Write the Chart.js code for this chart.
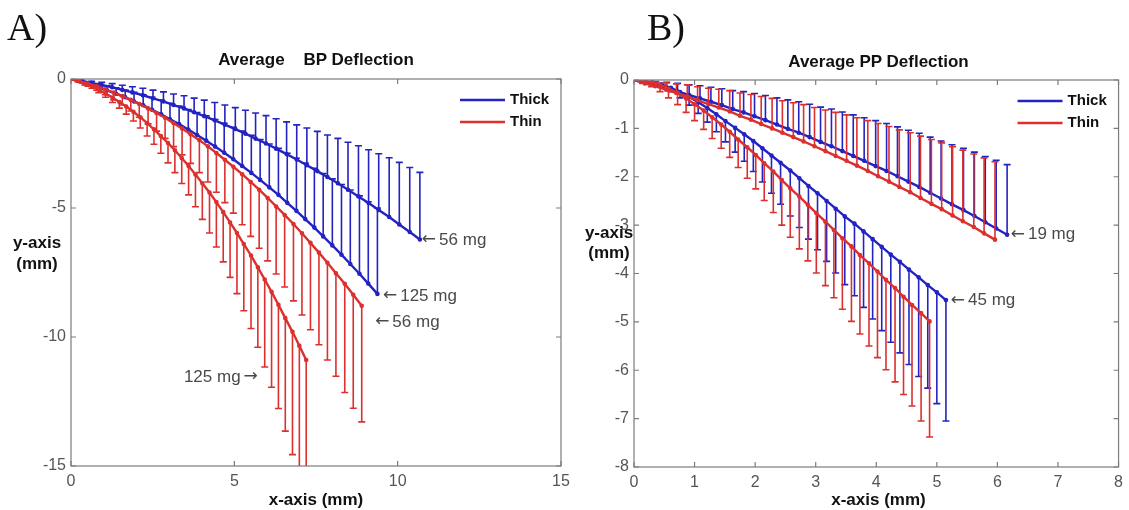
<!DOCTYPE html>
<html>
<head>
<meta charset="utf-8">
<script src="https://cdn.jsdelivr.net/npm/chart.js@4.4.0/dist/chart.umd.min.js"></script>
<style>
  body { margin: 0; background: #fff; }
  #wrap { position: relative; width: 1129px; height: 510px; overflow: hidden; font-family: 'Liberation Sans', Arial, sans-serif; }
  canvas { position: absolute; top: 0; }
  .lbl { position: absolute; color: #111; font-weight: bold; font-size: 17px; line-height: 20px; white-space: pre; text-align: center; }
  .panel { position: absolute; font-family: 'Liberation Serif', 'Times New Roman', serif; font-size: 38px; line-height: 38px; color: #111; }
</style>
</head>
<body>
<div id="wrap">
  <canvas id="chartA" width="580" height="510" style="left:0"></canvas>
  <canvas id="chartB" width="549" height="510" style="left:580px"></canvas>
  <div class="panel" style="left:7px;top:8px">A)</div>
  <div class="panel" style="left:647px;top:8px">B)</div>
  <div class="lbl" style="left:71px;width:490px;top:50px">Average    BP Deflection</div>
  <div class="lbl" style="left:634px;width:489px;top:52px">Average PP Deflection</div>
  <div class="lbl" style="left:71px;width:490px;top:490px">x-axis (mm)</div>
  <div class="lbl" style="left:634px;width:489px;top:490px">x-axis (mm)</div>
  <div class="lbl" style="left:0;width:74px;top:232px;line-height:21px">y-axis
(mm)</div>
  <div class="lbl" style="left:578px;width:62px;top:223px">y-axis
(mm)</div>
</div>
<script>
const BLUE = '#2323c2';
const RED = '#dc302e';

// ---- A) BP deflection ----
// thick, 56 mg (bars up)
const bpThick56X = [0, 0.31, 0.63, 0.94, 1.26, 1.57, 1.88, 2.20, 2.51, 2.83, 3.14, 3.46, 3.77, 4.08, 4.40, 4.71, 5.03, 5.34, 5.65, 5.97, 6.28, 6.60, 6.91, 7.22, 7.54, 7.85, 8.17, 8.48, 8.80, 9.11, 9.42, 9.74, 10.05, 10.37, 10.68];
const bpThick56Y = [0, -0.07, -0.15, -0.23, -0.32, -0.42, -0.52, -0.63, -0.75, -0.87, -1.01, -1.14, -1.29, -1.44, -1.60, -1.77, -1.94, -2.12, -2.31, -2.50, -2.70, -2.91, -3.12, -3.34, -3.57, -3.80, -4.04, -4.29, -4.55, -4.81, -5.08, -5.35, -5.64, -5.93, -6.22];
const bpThick56Err = [0, 0.03, 0.06, 0.10, 0.14, 0.18, 0.22, 0.27, 0.32, 0.37, 0.43, 0.49, 0.55, 0.62, 0.69, 0.76, 0.83, 0.91, 0.99, 1.08, 1.16, 1.25, 1.34, 1.44, 1.54, 1.63, 1.74, 1.84, 1.96, 2.07, 2.18, 2.30, 2.41, 2.50, 2.60];
// thick, 125 mg (bars up)
const bpThick125X = [0, 0.28, 0.55, 0.83, 1.10, 1.38, 1.66, 1.93, 2.21, 2.48, 2.76, 3.03, 3.31, 3.59, 3.86, 4.14, 4.41, 4.69, 4.97, 5.24, 5.52, 5.79, 6.07, 6.35, 6.62, 6.90, 7.17, 7.45, 7.72, 8.00, 8.28, 8.55, 8.83, 9.10, 9.38];
const bpThick125Y = [0, -0.10, -0.20, -0.32, -0.44, -0.57, -0.71, -0.87, -1.02, -1.19, -1.37, -1.56, -1.75, -1.96, -2.17, -2.39, -2.62, -2.86, -3.11, -3.37, -3.64, -3.91, -4.20, -4.49, -4.80, -5.11, -5.43, -5.76, -6.10, -6.45, -6.81, -7.17, -7.55, -7.93, -8.33];
const bpThick125Err = [0, 0.04, 0.08, 0.13, 0.18, 0.23, 0.28, 0.35, 0.41, 0.48, 0.55, 0.62, 0.70, 0.78, 0.87, 0.96, 1.05, 1.14, 1.24, 1.35, 1.46, 1.56, 1.68, 1.80, 1.92, 2.04, 2.17, 2.30, 2.44, 2.58, 2.72, 2.87, 3.02, 3.17, 3.33];
// thin, 56 mg (bars down)
const bpThin56X = [0, 0.26, 0.52, 0.79, 1.05, 1.31, 1.57, 1.83, 2.09, 2.36, 2.62, 2.88, 3.14, 3.40, 3.66, 3.93, 4.19, 4.45, 4.71, 4.97, 5.24, 5.50, 5.76, 6.02, 6.28, 6.54, 6.81, 7.07, 7.33, 7.59, 7.85, 8.11, 8.38, 8.64, 8.90];
const bpThin56Y = [0, -0.08, -0.18, -0.28, -0.40, -0.53, -0.66, -0.81, -0.97, -1.14, -1.32, -1.50, -1.71, -1.92, -2.14, -2.37, -2.61, -2.87, -3.13, -3.40, -3.69, -3.99, -4.29, -4.61, -4.94, -5.27, -5.62, -5.98, -6.35, -6.73, -7.12, -7.53, -7.94, -8.36, -8.79];
const bpThin56Err = [0, 0.04, 0.10, 0.15, 0.21, 0.28, 0.35, 0.43, 0.51, 0.60, 0.70, 0.80, 0.91, 1.02, 1.13, 1.26, 1.38, 1.52, 1.66, 1.80, 1.96, 2.11, 2.27, 2.44, 2.62, 2.79, 2.98, 3.17, 3.37, 3.57, 3.77, 3.99, 4.21, 4.40, 4.50];
// thin, 125 mg (bars down)
const bpThin125X = [0, 0.21, 0.42, 0.64, 0.85, 1.06, 1.27, 1.48, 1.69, 1.91, 2.12, 2.33, 2.54, 2.75, 2.97, 3.18, 3.39, 3.60, 3.81, 4.02, 4.24, 4.45, 4.66, 4.87, 5.08, 5.29, 5.51, 5.72, 5.93, 6.14, 6.35, 6.56, 6.78, 6.99, 7.20];
const bpThin125Y = [0, -0.08, -0.18, -0.29, -0.42, -0.56, -0.72, -0.89, -1.07, -1.27, -1.48, -1.71, -1.95, -2.21, -2.48, -2.76, -3.06, -3.37, -3.70, -4.04, -4.40, -4.77, -5.16, -5.56, -5.97, -6.40, -6.84, -7.30, -7.77, -8.25, -8.75, -9.27, -9.80, -10.34, -10.89];
const bpThin125Err = [0, 0.02, 0.05, 0.07, 0.11, 0.15, 0.19, 0.24, 0.29, 0.36, 0.42, 0.50, 0.58, 0.67, 0.77, 0.87, 0.99, 1.12, 1.25, 1.40, 1.57, 1.74, 1.93, 2.13, 2.35, 2.58, 2.83, 3.10, 3.39, 3.70, 4.02, 4.38, 4.76, 5.17, 5.57];

// ---- B) PP deflection ----
const ppThick19X = [0, 0.18, 0.36, 0.54, 0.72, 0.91, 1.09, 1.27, 1.45, 1.63, 1.81, 1.99, 2.17, 2.36, 2.54, 2.72, 2.90, 3.08, 3.26, 3.44, 3.62, 3.80, 3.99, 4.17, 4.35, 4.53, 4.71, 4.89, 5.07, 5.25, 5.44, 5.62, 5.80, 5.98, 6.16];
const ppThick19Y = [0, -0.06, -0.12, -0.18, -0.24, -0.31, -0.38, -0.45, -0.52, -0.60, -0.67, -0.75, -0.83, -0.92, -1.01, -1.09, -1.18, -1.28, -1.37, -1.47, -1.57, -1.67, -1.78, -1.88, -1.99, -2.10, -2.21, -2.33, -2.45, -2.57, -2.69, -2.81, -2.94, -3.07, -3.20];
const ppThick19Err = [0, 0.04, 0.09, 0.13, 0.17, 0.21, 0.26, 0.30, 0.34, 0.38, 0.43, 0.47, 0.51, 0.55, 0.60, 0.64, 0.68, 0.72, 0.77, 0.81, 0.85, 0.89, 0.94, 0.98, 1.02, 1.06, 1.11, 1.15, 1.19, 1.23, 1.28, 1.32, 1.36, 1.41, 1.45];
const ppThin19X = [0, 0.18, 0.35, 0.53, 0.70, 0.88, 1.05, 1.23, 1.40, 1.58, 1.75, 1.93, 2.10, 2.28, 2.45, 2.63, 2.80, 2.98, 3.16, 3.33, 3.51, 3.68, 3.86, 4.03, 4.21, 4.38, 4.56, 4.73, 4.91, 5.08, 5.26, 5.43, 5.61, 5.78, 5.96];
const ppThin19Y = [0, -0.07, -0.13, -0.20, -0.27, -0.34, -0.42, -0.50, -0.57, -0.65, -0.74, -0.82, -0.91, -1.00, -1.09, -1.18, -1.27, -1.37, -1.47, -1.57, -1.67, -1.77, -1.88, -1.99, -2.10, -2.21, -2.32, -2.44, -2.56, -2.67, -2.80, -2.92, -3.04, -3.17, -3.30];
const ppThin19Err = [0, 0.05, 0.09, 0.14, 0.19, 0.24, 0.28, 0.33, 0.38, 0.43, 0.47, 0.52, 0.57, 0.62, 0.66, 0.71, 0.76, 0.80, 0.85, 0.90, 0.95, 0.99, 1.04, 1.09, 1.14, 1.18, 1.23, 1.28, 1.33, 1.37, 1.42, 1.47, 1.51, 1.56, 1.61];
const ppThick45X = [0, 0.15, 0.30, 0.45, 0.61, 0.76, 0.91, 1.06, 1.21, 1.36, 1.51, 1.67, 1.82, 1.97, 2.12, 2.27, 2.42, 2.58, 2.73, 2.88, 3.03, 3.18, 3.33, 3.48, 3.64, 3.79, 3.94, 4.09, 4.24, 4.39, 4.54, 4.70, 4.85, 5.00, 5.15];
const ppThick45Y = [0, -0.02, -0.05, -0.09, -0.16, -0.25, -0.35, -0.46, -0.58, -0.71, -0.85, -0.99, -1.12, -1.26, -1.41, -1.56, -1.71, -1.87, -2.03, -2.19, -2.34, -2.50, -2.66, -2.82, -2.97, -3.13, -3.29, -3.45, -3.61, -3.76, -3.92, -4.08, -4.24, -4.39, -4.55];
const ppThick45Err = [0, 0.01, 0.03, 0.05, 0.08, 0.12, 0.17, 0.23, 0.29, 0.36, 0.43, 0.50, 0.56, 0.63, 0.70, 0.78, 0.86, 0.94, 1.02, 1.10, 1.17, 1.25, 1.33, 1.41, 1.49, 1.57, 1.65, 1.73, 1.81, 1.88, 1.96, 2.05, 2.13, 2.30, 2.50];
const ppThin45X = [0, 0.14, 0.29, 0.43, 0.57, 0.72, 0.86, 1.00, 1.15, 1.29, 1.44, 1.58, 1.72, 1.87, 2.01, 2.15, 2.30, 2.44, 2.58, 2.73, 2.87, 3.01, 3.16, 3.30, 3.44, 3.59, 3.73, 3.88, 4.02, 4.16, 4.31, 4.45, 4.59, 4.74, 4.88];
const ppThin45Y = [0, -0.02, -0.05, -0.10, -0.18, -0.27, -0.38, -0.50, -0.63, -0.77, -0.92, -1.07, -1.23, -1.39, -1.55, -1.72, -1.89, -2.07, -2.24, -2.41, -2.58, -2.75, -2.93, -3.10, -3.27, -3.44, -3.62, -3.79, -3.96, -4.13, -4.30, -4.48, -4.65, -4.82, -4.99];
const ppThin45Err = [0, 0.05, 0.09, 0.14, 0.19, 0.24, 0.29, 0.34, 0.39, 0.44, 0.49, 0.53, 0.58, 0.64, 0.70, 0.77, 0.85, 0.93, 1.01, 1.08, 1.16, 1.24, 1.32, 1.40, 1.47, 1.55, 1.63, 1.71, 1.78, 1.86, 1.94, 2.02, 2.09, 2.23, 2.39];

const legendItems = [{ text: 'Thick', color: BLUE }, { text: 'Thin', color: RED }];
const notesA = [
  { text: '56 mg', x: 10.74, y: -6.24, arrow: 'left' },
  { text: '125 mg', x: 9.55, y: -8.41, arrow: 'left' },
  { text: '56 mg', x: 9.31, y: -9.42, arrow: 'left' },
  { text: '125 mg', x: 5.72, y: -11.55, arrow: 'right' }
];
const notesB = [
  { text: '19 mg', x: 6.22, y: -3.2, arrow: 'left' },
  { text: '45 mg', x: 5.23, y: -4.56, arrow: 'left' }
];

function pts(xs, ys) {
  return xs.map((x, i) => ({ x: x, y: ys[i] }));
}

function curve(xs, ys, errs, dir, color) {
  return {
    data: pts(xs, ys),
    errs: errs,
    errDir: dir,          // +1 bars go up, -1 bars go down
    showLine: true,
    borderColor: color,
    backgroundColor: color,
    borderWidth: 2.4,
    pointRadius: 1.1,
    pointHoverRadius: 0,
    tension: 0
  };
}

// one-sided error bars, drawn just before each curve
const errorBars = {
  id: 'errorBars',
  beforeDatasetDraw(chart, args) {
    const ds = chart.data.datasets[args.index];
    if (!ds.errs) return;
    const ctx = chart.ctx, a = chart.chartArea;
    const xs = chart.scales.x, ys = chart.scales.y;
    ctx.save();
    ctx.beginPath();
    ctx.rect(a.left, a.top, a.right - a.left, a.bottom - a.top);
    ctx.clip();
    ctx.strokeStyle = ds.borderColor;
    ctx.lineWidth = 1.6;
    ds.data.forEach((p, i) => {
      const e = ds.errs[i];
      if (!e) return;
      const px = xs.getPixelForValue(p.x);
      const y0 = ys.getPixelForValue(p.y);
      const y1 = ys.getPixelForValue(p.y + ds.errDir * e);
      ctx.beginPath();
      ctx.moveTo(px, y0);
      ctx.lineTo(px, y1);
      ctx.moveTo(px - 3.5, y1);
      ctx.lineTo(px + 3.5, y1);
      ctx.stroke();
    });
    ctx.restore();
  }
};

// box, inward ticks, legend and the mg notes
const frame = {
  id: 'frame',
  afterDraw(chart, args, opts) {
    const ctx = chart.ctx, a = chart.chartArea;
    const xs = chart.scales.x, ys = chart.scales.y;
    ctx.save();
    ctx.strokeStyle = '#7c7c7c';
    ctx.lineWidth = 1.2;
    ctx.strokeRect(a.left, a.top, a.right - a.left, a.bottom - a.top);
    ctx.beginPath();
    xs.ticks.forEach(t => {
      const px = xs.getPixelForValue(t.value);
      ctx.moveTo(px, a.bottom); ctx.lineTo(px, a.bottom - 5);
      ctx.moveTo(px, a.top); ctx.lineTo(px, a.top + 5);
    });
    ys.ticks.forEach(t => {
      const py = ys.getPixelForValue(t.value);
      ctx.moveTo(a.left, py); ctx.lineTo(a.left + 5, py);
      ctx.moveTo(a.right, py); ctx.lineTo(a.right - 5, py);
    });
    ctx.stroke();

    // legend
    ctx.textBaseline = 'middle';
    ctx.textAlign = 'left';
    ctx.font = 'bold 15px "Liberation Sans", Arial, sans-serif';
    legendItems.forEach((it, i) => {
      const ly = a.top + 21 + i * 22;
      ctx.strokeStyle = it.color;
      ctx.lineWidth = 2.4;
      ctx.beginPath();
      ctx.moveTo(a.right - 101, ly);
      ctx.lineTo(a.right - 56, ly);
      ctx.stroke();
      ctx.fillStyle = '#111';
      ctx.fillText(it.text, a.right - 51, ly);
    });

    // notes: arrow glyph + label
    const txtFont = '17px "Liberation Sans", Arial, sans-serif';
    const arrFont = '17px "DejaVu Sans", sans-serif';
    ctx.fillStyle = '#4a4a4a';
    opts.notes.forEach(n => {
      const px = xs.getPixelForValue(n.x);
      const py = ys.getPixelForValue(n.y);
      const glyph = n.arrow === 'left' ? '\u2190' : '\u2192';
      ctx.font = arrFont;
      const aw = ctx.measureText(glyph).width;
      if (n.arrow === 'left') {
        ctx.textAlign = 'left';
        ctx.fillText(glyph, px, py);
        ctx.font = txtFont;
        ctx.fillText(n.text, px + aw + 3, py);
      } else {
        ctx.textAlign = 'right';
        ctx.fillText(glyph, px, py);
        ctx.font = txtFont;
        ctx.fillText(n.text, px - aw - 3, py);
      }
    });
    ctx.restore();
  }
};

function axes(xMax, xStep, yMin, yStep, yWidth, xHeight) {
  const tickFont = { family: "'Liberation Sans', Arial, sans-serif", size: 16 };
  return {
    x: {
      type: 'linear', min: 0, max: xMax,
      ticks: { stepSize: xStep, color: '#555', font: tickFont, padding: 6 },
      grid: { display: false, drawTicks: false },
      border: { display: false },
      afterFit(s) { s.height = xHeight; }
    },
    y: {
      type: 'linear', min: yMin, max: 0,
      ticks: { stepSize: yStep, color: '#555', font: tickFont, padding: 5 },
      grid: { display: false, drawTicks: false },
      border: { display: false },
      afterFit(s) { s.width = yWidth; }
    }
  };
}

function makeChart(id, datasets, scales, pad, notes) {
  return new Chart(document.getElementById(id), {
    type: 'scatter',
    data: { datasets: datasets },
    options: {
      responsive: false,
      animation: false,
      devicePixelRatio: 1,
      layout: { padding: pad },
      scales: scales,
      plugins: {
        legend: { display: false },
        tooltip: { enabled: false },
        frame: { notes: notes }
      }
    },
    plugins: [errorBars, frame]
  });
}

// red listed first so it is painted on top of blue
makeChart('chartA', [
  curve(bpThin125X, bpThin125Y, bpThin125Err, -1, RED),
  curve(bpThin56X, bpThin56Y, bpThin56Err, -1, RED),
  curve(bpThick125X, bpThick125Y, bpThick125Err, 1, BLUE),
  curve(bpThick56X, bpThick56Y, bpThick56Err, 1, BLUE)
], axes(15, 5, -15, 5, 71, 44), { left: 0, right: 19, top: 79, bottom: 0 }, notesA);

makeChart('chartB', [
  curve(ppThin45X, ppThin45Y, ppThin45Err, -1, RED),
  curve(ppThin19X, ppThin19Y, ppThin19Err, 1, RED),
  curve(ppThick45X, ppThick45Y, ppThick45Err, -1, BLUE),
  curve(ppThick19X, ppThick19Y, ppThick19Err, 1, BLUE)
], axes(8, 1, -8, 1, 54, 43), { left: 0, right: 6, top: 80, bottom: 0 }, notesB);
</script>
</body>
</html>
